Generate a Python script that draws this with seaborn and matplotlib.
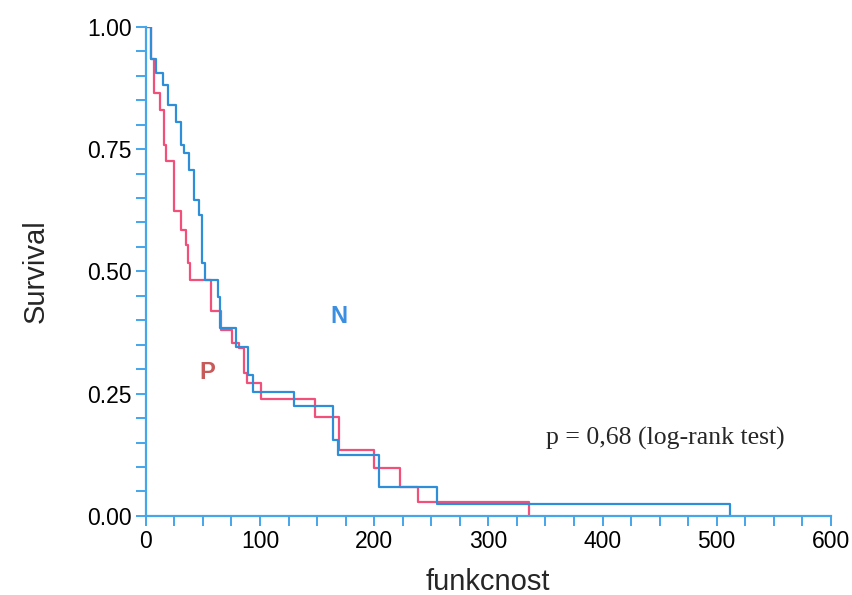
import matplotlib
matplotlib.use("Agg")
import matplotlib.pyplot as plt
import pandas as pd
import seaborn as sns
from matplotlib.ticker import MultipleLocator

# Kaplan-Meier steps (time of drop, survival after drop)
n_time = [0, 4.4, 8.8, 14.6, 19, 26.3, 30.6, 33.5, 37.9, 42.3, 46.7, 49.6, 51.7,
          62.8, 64.9, 78.9, 89.1, 93.5, 129.9, 163.5, 168, 204.3, 254.8, 512]
n_surv = [1.0, 0.935, 0.906, 0.88, 0.84, 0.806, 0.759, 0.742, 0.708, 0.646, 0.616, 0.517, 0.483,
          0.448, 0.384, 0.346, 0.288, 0.254, 0.224, 0.155, 0.125, 0.06, 0.025, 0.0]

p_time = [0, 4.4, 7.3, 12.4, 16, 17.5, 24.8, 30.6, 35, 36.5, 38.8, 57, 65.7, 75.8, 81.6,
          85.9, 89, 101, 148, 169.3, 200, 223, 238, 335.6]
p_surv = [1.0, 0.935, 0.865, 0.83, 0.759, 0.725, 0.623, 0.585, 0.554, 0.517, 0.483, 0.418, 0.38, 0.353, 0.343,
          0.292, 0.272, 0.239, 0.203, 0.135, 0.097, 0.06, 0.029, 0.0]

p_text = "p = 0,68 (log-rank test)"

axis_blue = "#45a6ea"
n_color = "#2f8ed8"
p_color = "#f0507a"

sns.set_style("ticks")
plt.rcParams["font.family"] = ["Liberation Sans", "DejaVu Sans"]

df_n = pd.DataFrame({"time": n_time, "surv": n_surv})
df_p = pd.DataFrame({"time": p_time, "surv": p_surv})

fig = plt.figure(figsize=(8.53, 5.95), dpi=100)
ax = fig.add_axes([0.171, 0.133, 0.803, 0.822])

sns.lineplot(data=df_p, x="time", y="surv", drawstyle="steps-post", color=p_color,
             linewidth=1.6, ax=ax, estimator=None)
sns.lineplot(data=df_n, x="time", y="surv", drawstyle="steps-post", color=n_color,
             linewidth=1.6, ax=ax, estimator=None)

ax.set_xlim(0, 600)
ax.set_ylim(0, 1)
ax.xaxis.set_major_locator(MultipleLocator(100))
ax.xaxis.set_minor_locator(MultipleLocator(25))
ax.yaxis.set_major_locator(MultipleLocator(0.25))
ax.yaxis.set_minor_locator(MultipleLocator(0.05))
ax.set_yticklabels([f"{v:.2f}" for v in ax.get_yticks()])

sns.despine(ax=ax)
for side in ["left", "bottom"]:
    ax.spines[side].set_color(axis_blue)
    ax.spines[side].set_linewidth(1.6)
ax.tick_params(which="both", direction="out", length=7, width=1.4, color=axis_blue,
               labelsize=16.5, labelcolor="black", pad=3)

ax.set_xlabel("funkcnost", fontsize=21, labelpad=11)
ax.set_ylabel("Survival", fontsize=21, labelpad=27)

ax.text(169, 0.407, "N", color="#3b8fe0", fontsize=17, fontweight="bold",
        ha="center", va="center")
ax.text(54, 0.294, "P", color="#c85a5a", fontsize=17, fontweight="bold",
        ha="center", va="center")
ax.text(455, 0.158, p_text, fontsize=18.5, ha="center", va="center",
        family=["Liberation Serif", "DejaVu Serif"])

fig.savefig("out.png", dpi=100)
